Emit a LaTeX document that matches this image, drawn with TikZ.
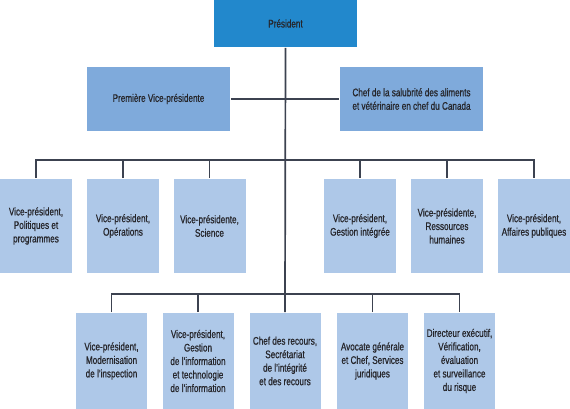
\documentclass[tikz,border=0pt]{standalone}
\usepackage{fontspec}
\setmainfont[FakeStretch=0.74,FakeBold=0.7]{Liberation Sans}
\definecolor{presblue}{HTML}{2288CC}
\definecolor{midblue}{HTML}{7FAADB}
\definecolor{paleblue}{HTML}{AEC8E8}
\definecolor{linegray}{HTML}{3C4250}
\definecolor{textgray}{HTML}{26262B}
\begin{document}
\begin{tikzpicture}[x=1pt,y=-1pt,line width=1.7pt,draw=linegray,
  box/.style={inner sep=2pt,align=center,text=textgray,font=\fontsize{11}{13.5}\selectfont},
  top/.style={box,fill=presblue,minimum width=143pt,minimum height=47pt},
  mid/.style={box,fill=midblue,minimum width=143pt,minimum height=64pt},
  low/.style={box,fill=paleblue,minimum width=72pt,minimum height=94pt},
  base/.style={box,fill=paleblue,minimum width=71pt,minimum height=96pt}]
  \useasboundingbox (0,0) rectangle (570,409);
  \node[top] (pres) at (285.5,23.5) {Président};
  \node[mid] (prem) at (158.5,99) {Première Vice-présidente};
  \node[mid] (chef) at (411.5,99) {Chef de la salubrité des aliments\\et vétérinaire en chef du Canada};
  \node[low] (pol) at (36,226) {Vice-président,\\Politiques et\\programmes};
  \node[low] (ope) at (123,226) {Vice-président,\\Opérations};
  \node[low] (sci) at (209.5,226) {Vice-présidente,\\Science};
  \node[low] (gest) at (360,226) {Vice-président,\\Gestion intégrée};
  \node[low] (rh) at (447,226) {Vice-présidente,\\Ressources\\humaines};
  \node[low] (aff) at (534,226) {Vice-président,\\Affaires publiques};
  \node[base] (mod) at (111.5,361) {Vice-président,\\Modernisation\\de l’inspection};
  \node[base] (gi) at (198,361) {Vice-président,\\Gestion\\de l’information\\et technologie\\de l’information};
  \node[base] (rec) at (285,361) {Chef des recours,\\Secrétariat\\de l’intégrité\\et des recours};
  \node[base] (avo) at (372.5,361) {Avocate générale\\et Chef, Services\\juridiques};
  \node[base] (ver) at (459.5,361) {Directeur exécutif,\\Vérification,\\évaluation\\et surveillance\\du risque};
  \coordinate (bus2) at (285,160);
  \coordinate (bus3) at (285,294);
  \draw (pres.south) -- (rec.north);
  \draw (prem.east) -- (chef.west);
  \draw (pol.north) |- (bus2) -| (aff.north);
  \draw (ope.north) |- (bus2);
  \draw (sci.north) |- (bus2);
  \draw (gest.north) |- (bus2);
  \draw (rh.north) |- (bus2);
  \draw (mod.north) |- (bus3) -| (ver.north);
  \draw (gi.north) |- (bus3);
  \draw (avo.north) |- (bus3);
\end{tikzpicture}
\end{document}
